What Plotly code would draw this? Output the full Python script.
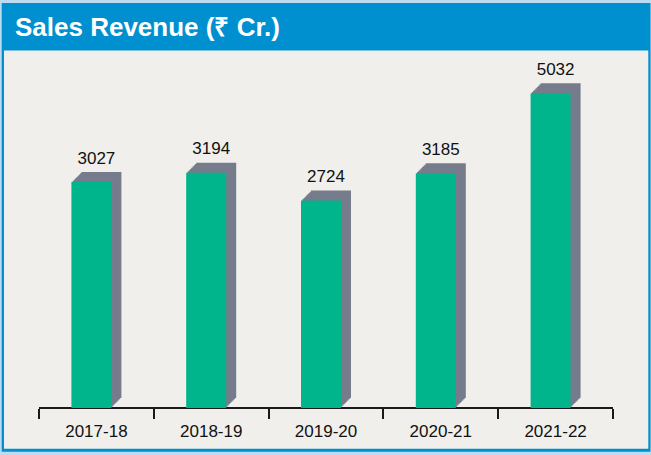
import plotly.graph_objects as go

# ---- data ----
years = ["2017-18", "2018-19", "2019-20", "2020-21", "2021-22"]
revenue = [3027, 3194, 2724, 3185, 5032]
value_labels = ["3027", "3194", "2724", "3185", "5032"]
title_text = "Sales Revenue (₹ Cr.)"

# ---- layout constants (pixels) ----
W, H = 651, 455
PLOT_L, PLOT_R = 39, 613
PLOT_T, PLOT_B = 55, 408
Y_RANGE = [2.9189, 3.7970]          # log10 range
CAT_W = (PLOT_R - PLOT_L) / len(years)
FRONT_W = 40
FRONT_SHIFT = -25
DEPTHS = [10, 8.75, 7.5, 6.25, 5, 3.75, 2.5, 1.25]
LABEL_LIFT = 14

GREEN = "#00b48c"
GREY = "#767c8c"
BG = "#f0efeb"
BLUE = "#0090d0"
OUTER = "#bcdcf2"
NARROW = "Liberation Sans Narrow, Arial Narrow, Liberation Sans, Arial, sans-serif"


def px_x(p):
    return p / W


def px_y(p):
    return 1 - p / H


fig = go.Figure()
layout_axes = {}

# side/top faces: grey bars on axes shifted up/right by a few pixels (drawn first)
for i, d in enumerate(DEPTHS):
    idx = i + 1
    key = "yaxis" if idx == 1 else f"yaxis{idx}"
    ref = "y" if idx == 1 else f"y{idx}"
    layout_axes[key] = dict(type="log", range=Y_RANGE,
                            domain=[px_y(PLOT_B - d), px_y(PLOT_T - d)],
                            anchor="x", visible=False, showgrid=False, zeroline=False)
    fig.add_trace(go.Bar(x=years, y=revenue, yaxis=ref,
                         offset=(FRONT_SHIFT + d) / CAT_W, width=FRONT_W / CAT_W,
                         marker=dict(color=GREY, line=dict(width=0)),
                         hoverinfo="skip", showlegend=False))

# front faces
front_idx = len(DEPTHS) + 1
layout_axes[f"yaxis{front_idx}"] = dict(type="log", range=Y_RANGE,
                                        domain=[px_y(PLOT_B), px_y(PLOT_T)],
                                        anchor="x", visible=False, showgrid=False, zeroline=False)
fig.add_trace(go.Bar(x=years, y=revenue, yaxis=f"y{front_idx}",
                     offset=FRONT_SHIFT / CAT_W, width=FRONT_W / CAT_W,
                     marker=dict(color=GREEN, line=dict(width=0)),
                     showlegend=False))

# value labels above the top face
label_idx = front_idx + 1
layout_axes[f"yaxis{label_idx}"] = dict(type="log", range=Y_RANGE,
                                        domain=[px_y(PLOT_B - LABEL_LIFT), px_y(PLOT_T - LABEL_LIFT)],
                                        anchor="x", visible=False, showgrid=False, zeroline=False)
fig.add_trace(go.Scatter(x=years, y=revenue, yaxis=f"y{label_idx}", mode="text",
                         text=value_labels, textposition="top center",
                         textfont=dict(family=NARROW, size=17, color="#111111"),
                         cliponaxis=False, showlegend=False, hoverinfo="skip"))

shapes = [
    # blue frame
    dict(type="rect", xref="paper", yref="paper", layer="below",
         x0=px_x(1.7), x1=px_x(650.5), y0=px_y(451.7), y1=px_y(3),
         fillcolor=BLUE, line=dict(width=0)),
    # content panel
    dict(type="rect", xref="paper", yref="paper", layer="below",
         x0=px_x(4), x1=px_x(648.3), y0=px_y(448.7), y1=px_y(50.5),
         fillcolor=BG, line=dict(width=0)),
]

fig.update_layout(
    width=W, height=H, autosize=False,
    margin=dict(l=0, r=0, t=0, b=0),
    paper_bgcolor=OUTER, plot_bgcolor="rgba(0,0,0,0)",
    barmode="overlay",
    shapes=shapes,
    xaxis=dict(type="category", categoryorder="array", categoryarray=years,
               range=[-0.5, len(years) - 0.5],
               domain=[px_x(PLOT_L), px_x(PLOT_R)],
               anchor="free", position=px_y(PLOT_B),
               showline=True, linecolor="#1a1a1a", linewidth=1.5,
               ticks="outside", tickson="boundaries", ticklen=10,
               tickcolor="#1a1a1a", tickwidth=1.5,
               ticklabelstandoff=8,
               showgrid=False, zeroline=False,
               tickfont=dict(family=NARROW, size=17, color="#111111"),
               automargin=False),
    annotations=[dict(text=f"<b>{title_text}</b>", xref="paper", yref="paper",
                      x=px_x(13), y=px_y(27), xanchor="left", yanchor="middle",
                      showarrow=False,
                      font=dict(family="Liberation Sans, Arial, sans-serif",
                                size=26, color="white"))],
    **layout_axes,
)

fig.write_html("out.html",
               config={"displayModeBar": False},
               post_script="document.body.style.margin='0';document.body.style.padding='0';"
                           "document.documentElement.style.overflow='hidden';")
